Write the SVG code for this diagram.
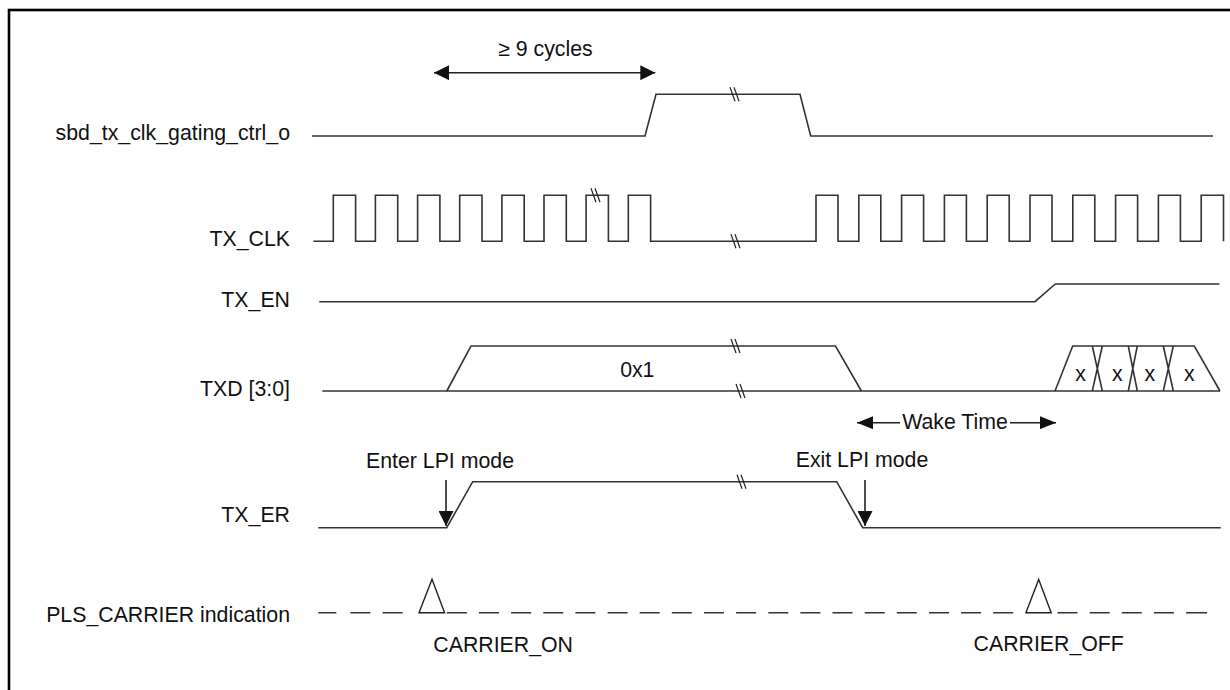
<svg xmlns="http://www.w3.org/2000/svg" width="1230" height="690" viewBox="0 0 1230 690">
<style>
  .sig{fill:none;stroke:#333;stroke-width:1.6;stroke-linejoin:miter}
  .brk{fill:none;stroke:#222;stroke-width:1.2}
  .lbl{font-family:"Liberation Sans",Arial,sans-serif;font-size:21.3px;fill:#111}
  .end{text-anchor:end}
  .mid{text-anchor:middle}
  .arr{fill:none;stroke:#222;stroke-width:1.6}
  .tri{fill:#fff;stroke:#222;stroke-width:1.4;stroke-linejoin:miter}
</style>
<defs>
  <marker id="ah" markerUnits="userSpaceOnUse" markerWidth="16" markerHeight="15" refX="15" refY="7.5" orient="auto-start-reverse">
    <path d="M0,0 L15,7.5 L0,15 Z" fill="#111"/>
  </marker>
  <marker id="ahs" markerUnits="userSpaceOnUse" markerWidth="17" markerHeight="13" refX="16" refY="6.5" orient="auto-start-reverse">
    <path d="M0,0 L16,6.5 L0,13 Z" fill="#111"/>
  </marker>
  <path id="bm" d="M-6,-7 L-1,7 M-2,-7 L3,7"/>
</defs>
<rect width="1230" height="690" fill="#fff"/>
<rect x="9" y="10" width="1240" height="700" fill="none" stroke="#000" stroke-width="2.6"/>

<g id="sbd_tx_clk_gating_ctrl_o">
  <text class="lbl end" x="290" y="140">sbd_tx_clk_gating_ctrl_o</text>
  <path class="sig" d="M312 136 H645 L656 94.3 H800 L810.7 136 H1213"/>
  <use href="#bm" class="brk" x="736" y="94.3"/>
</g>

<g id="TX_CLK">
  <text class="lbl end" x="290" y="245.7">TX_CLK</text>
  <path class="sig" d="M313.3 241.3 H333.3 V195.3 H355.6 V241.3 H375.4 V195.3 H397.7 V241.3 H417.6 V195.3 H439.9 V241.3 H459.7 V195.3 H482 V241.3 H501.9 V195.3 H524.2 V241.3 H544 V195.3 H566.3 V241.3 H586.1 V195.3 H608.4 V241.3 H628.3 V195.3 H650.6 V241.3 H816 V195.3 H838 V241.3 H858.8 V195.3 H880.8 V241.3 H901.6 V195.3 H923.6 V241.3 H944.4 V195.3 H966.4 V241.3 H987.2 V195.3 H1009.2 V241.3 H1030 V195.3 H1052 V241.3 H1072.8 V195.3 H1094.8 V241.3 H1115.6 V195.3 H1137.6 V241.3 H1158.4 V195.3 H1180.4 V241.3 H1201.2 V195.3 H1223.5 V241.3"/>
  <use href="#bm" class="brk" x="597" y="195.3"/>
  <use href="#bm" class="brk" x="737" y="241.3"/>
</g>

<g id="TX_EN">
  <text class="lbl end" x="290" y="306.7">TX_EN</text>
  <path class="sig" d="M319.3 301.7 H1035 L1055.3 284 H1219.3"/>
</g>

<g id="TXD">
  <text class="lbl end" x="290" y="395.7">TXD [3:0]</text>
  <path class="sig" d="M322.3 391 H1220"/>
  <path class="sig" d="M446.8 391 L471 346 H835.5 L861.4 391"/>
  <use href="#bm" class="brk" x="737" y="346"/>
  <use href="#bm" class="brk" x="742" y="391"/>
  <text class="lbl mid" x="637.3" y="377">0x1</text>
  <path class="sig" d="M1055 391 L1072.7 346 H1194.3 L1220 391"/>
  <path class="sig" d="M1092.3 346 L1102.3 391 M1102.3 346 L1092.3 391 M1128.3 346 L1137.3 391 M1137.3 346 L1128.3 391 M1163.3 346 L1173.3 391 M1173.3 346 L1163.3 391"/>
  <text class="lbl mid" x="1080.5" y="381">x</text>
  <text class="lbl mid" x="1117.3" y="381">x</text>
  <text class="lbl mid" x="1149.8" y="381">x</text>
  <text class="lbl mid" x="1189.3" y="381">x</text>
</g>

<g id="TX_ER">
  <text class="lbl end" x="290" y="521.5">TX_ER</text>
  <path class="sig" d="M318.3 527.7 H446.7 L472.7 481.7 H836.7 L862.7 527.7 H1220.7"/>
  <use href="#bm" class="brk" x="743" y="481.7"/>
</g>

<g id="PLS_CARRIER">
  <text class="lbl end" x="290" y="622">PLS_CARRIER indication</text>
  <path class="sig" d="M318.3 612.7 h18 M350.4 612.7 h20 M382.6 612.7 h20 M446.9 612.7 h20 M479 612.7 h20 M511.1 612.7 h20 M543.3 612.7 h20 M575.4 612.7 h20 M607.6 612.7 h20 M639.7 612.7 h20 M671.8 612.7 h20 M704 612.7 h20 M736.1 612.7 h20 M768.3 612.7 h20 M800.4 612.7 h20 M832.5 612.7 h20 M864.7 612.7 h20 M896.8 612.7 h20 M929 612.7 h20 M961.1 612.7 h20 M993.2 612.7 h20 M1057.5 612.7 h20 M1089.7 612.7 h20 M1121.8 612.7 h20 M1153.9 612.7 h20 M1186.1 612.7 h21"/>
  <polygon class="tri" points="419,612.7 432,579.3 444.6,612.7"/>
  <polygon class="tri" points="1025.9,612.7 1038.7,579.5 1051.2,612.7"/>
  <text class="lbl" x="433.3" y="651.5">CARRIER_ON</text>
  <text class="lbl" x="973.6" y="651">CARRIER_OFF</text>
</g>

<g id="connectors">
  <line class="arr" x1="434" y1="72.7" x2="655.3" y2="72.7" marker-start="url(#ah)" marker-end="url(#ah)"/>
  <text class="lbl mid" x="545.4" y="55.7">≥ 9 cycles</text>
  <line class="arr" x1="857" y1="422.7" x2="900" y2="422.7" marker-start="url(#ahs)"/>
  <line class="arr" x1="1010" y1="422.7" x2="1056" y2="422.7" marker-end="url(#ahs)"/>
  <text class="lbl mid" x="955" y="428.5">Wake Time</text>
  <text class="lbl" x="366" y="467.5">Enter LPI mode</text>
  <line class="arr" x1="446" y1="480" x2="446" y2="526" marker-end="url(#ah)"/>
  <text class="lbl" x="795.7" y="467">Exit LPI mode</text>
  <line class="arr" x1="865" y1="480" x2="865" y2="526" marker-end="url(#ah)"/>
</g>
</svg>
